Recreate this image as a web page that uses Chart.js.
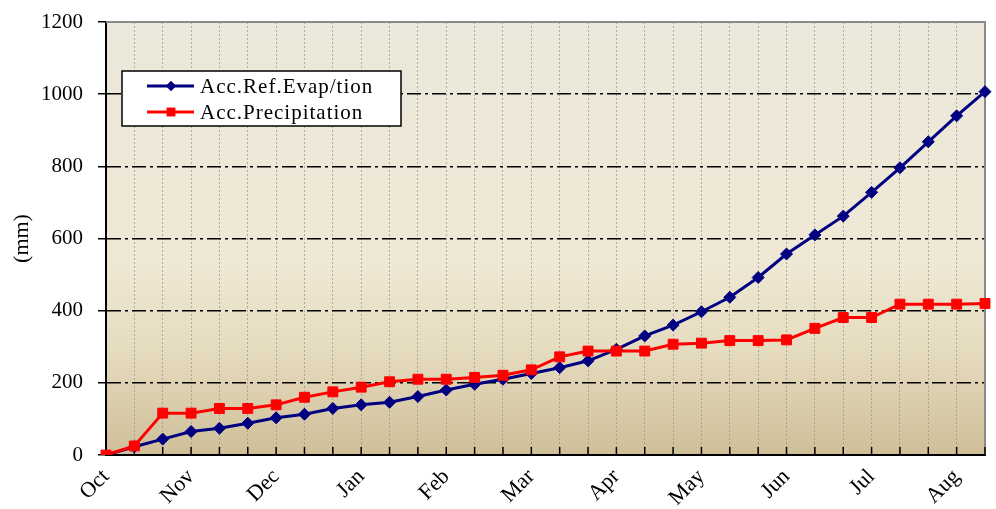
<!DOCTYPE html>
<html>
<head>
<meta charset="utf-8">
<script src="https://cdn.jsdelivr.net/npm/chart.js@4.4.1/dist/chart.umd.min.js"></script>
<style>
	html, body { margin: 0; padding: 0; background: #fff; }
	#wrap { width: 996px; height: 509px; }
</style>
</head>
<body>
<div id="wrap"><canvas id="myChart" width="996" height="509"></canvas></div>
<script>
// 10-day periods, Oct .. Aug (month name on the first period of each month)
var periods = ['Oct', '', '', 'Nov', '', '', 'Dec', '', '', 'Jan', '', '', 'Feb', '', '', 'Mar', '', '',
	'Apr', '', '', 'May', '', '', 'Jun', '', '', 'Jul', '', '', 'Aug', ''];

var accRefEvap = [0, 23, 44, 65, 74, 88, 103, 113, 129, 139, 146, 162, 180, 196, 210, 226,
	242, 261, 293, 330, 360, 397, 437, 492, 557, 610, 662, 728, 796, 868, 940, 1007];

var accPrecip = [0, 25, 116, 116, 129, 129, 139, 160, 175, 188, 203, 210, 210, 215, 221, 236,
	272, 288, 288, 288, 307, 310, 317, 317, 319, 351, 381, 381, 418, 418, 418, 420];

var yTicks = [0, 200, 400, 600, 800, 1000, 1200];

var serif = "'Liberation Serif', 'Times New Roman', serif";

// background, frame, inner ticks and legend box
var decoPlugin = {
	id: 'deco',
	beforeDraw: function(chart) {
		var ctx = chart.ctx, a = chart.chartArea;
		ctx.save();
		ctx.fillStyle = '#fff';
		ctx.fillRect(0, 0, chart.width, chart.height);
		var g = ctx.createLinearGradient(0, a.top, 0, a.bottom);
		g.addColorStop(0, '#ebe8db');
		g.addColorStop(0.55, '#efe8d5');
		g.addColorStop(0.75, '#e6dcc0');
		g.addColorStop(1, '#cfbf99');
		ctx.fillStyle = g;
		ctx.fillRect(a.left, a.top, a.right - a.left, a.bottom - a.top);
		ctx.restore();
	},
	beforeDatasetsDraw: function(chart) {
		var ctx = chart.ctx, a = chart.chartArea, xs = chart.scales.x;
		ctx.save();
		ctx.strokeStyle = '#8a8a8a';
		ctx.lineWidth = 2;
		ctx.beginPath();
		ctx.moveTo(a.left, a.top);
		ctx.lineTo(a.right, a.top);
		ctx.lineTo(a.right, a.bottom);
		ctx.stroke();
		ctx.strokeStyle = '#000';
		ctx.lineWidth = 1.5;
		ctx.beginPath();
		for (var i = 1; i < periods.length; i++) {
			var px = xs.getPixelForValue(i);
			ctx.moveTo(px, a.bottom);
			ctx.lineTo(px, a.bottom - 8);
		}
		ctx.stroke();
		ctx.restore();
	},
	afterDraw: function(chart) {
		var ctx = chart.ctx;
		ctx.save();
		ctx.fillStyle = '#fff';
		ctx.fillRect(122, 71, 279, 55);
		ctx.strokeStyle = '#000';
		ctx.lineWidth = 1.5;
		ctx.strokeRect(122, 71, 279, 55);
		var rows = [86, 112];
		chart.data.datasets.forEach(function(ds, k) {
			var y = rows[k];
			ctx.strokeStyle = ds.borderColor;
			ctx.lineWidth = 3;
			ctx.beginPath();
			ctx.moveTo(147, y);
			ctx.lineTo(194, y);
			ctx.stroke();
			ctx.fillStyle = ds.borderColor;
			Chart.helpers.drawPoint(ctx, { pointStyle: ds.pointStyle, radius: ds.pointRadius - 1, borderWidth: 0 }, 171, y);
			ctx.fill();
			ctx.fillStyle = '#000';
			ctx.font = '21px ' + serif;
			ctx.letterSpacing = '1px';
			ctx.textBaseline = 'middle';
			ctx.fillText(ds.label, 200, y + 1);
		});
		ctx.restore();
	}
};

function loadChart() {
	var ctx = document.getElementById('myChart');
	var myChart = new Chart(ctx, {
		type: 'line',
		data: {
			labels: periods,
			datasets: [{
				label: 'Acc.Ref.Evap/tion',
				data: accRefEvap,
				borderColor: '#000080',
				backgroundColor: '#000080',
				borderWidth: 3,
				pointStyle: 'rectRot',
				pointRadius: 6,
				pointBorderWidth: 1,
				order: 1
			}, {
				label: 'Acc.Precipitation',
				data: accPrecip,
				borderColor: '#ff0000',
				backgroundColor: '#ff0000',
				borderWidth: 3,
				pointStyle: 'rect',
				pointRadius: 7,
				pointBorderWidth: 1,
				order: 0
			}]
		},
		options: {
			responsive: false,
			animation: false,
			layout: { padding: { top: 22, right: 11, left: 0, bottom: 0 } },
			plugins: {
				legend: { display: false },
				tooltip: { enabled: false }
			},
			scales: {
				x: {
					offset: false,
					grid: {
						color: 'rgba(150,145,135,0.7)',
						lineWidth: 1,
						drawTicks: false
					},
					border: { color: '#000', width: 2, dash: [2, 2] },
					ticks: {
						autoSkip: false,
						minRotation: 45,
						maxRotation: 45,
						padding: 9,
						color: '#000',
						font: { family: serif, size: 22 }
					},
					afterFit: function(scale) {
						scale.height = 54;
						scale.paddingRight = 0;
					}
				},
				y: {
					min: 0,
					max: 1200,
					afterBuildTicks: function(scale) {
						scale.ticks = yTicks.map(function(v) { return { value: v }; });
					},
					grid: {
						color: function(c) {
							if (c.tick && c.tick.value === 0) return 'rgba(0,0,0,0)';
							if (c.tick && c.tick.value === 1200) return '#8a8a8a';
							return '#000';
						},
						lineWidth: 1.5,
						tickColor: '#000',
						tickLength: 8,
						tickBorderDash: [],
						tickWidth: 1.5
					},
					border: { color: '#000', width: 2, dash: [14, 4, 3, 4] },
					ticks: {
						padding: 15,
						color: '#000',
						font: { family: serif, size: 21 },
						callback: function(v) { return String(v); }
					},
					title: {
						display: true,
						text: '(mm)',
						color: '#000',
						font: { family: serif, size: 22 },
						padding: { top: 9, bottom: 0 }
					},
					afterFit: function(scale) {
						scale.width = 106;
						scale.paddingTop = 0;
						scale.paddingBottom = 0;
					}
				}
			}
		},
		plugins: [decoPlugin]
	});
}

loadChart();
</script>
</body>
</html>
